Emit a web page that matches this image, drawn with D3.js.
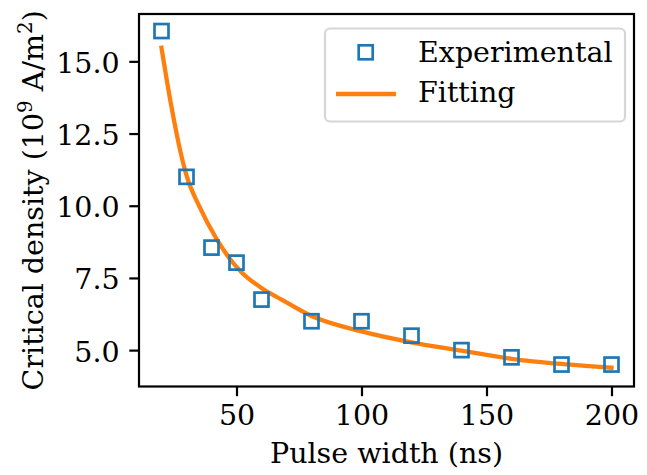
<!DOCTYPE html>
<html>
<head>
<meta charset="utf-8">
<script src="https://cdn.jsdelivr.net/npm/d3@7"></script>
<style>
  body { margin: 0; background: #fff; }
  text { font-family: "DejaVu Serif", serif; fill: #000; }
</style>
</head>
<body>
<div id="chart"></div>
<script>
// ==================== donnees ====================//
const pulseWidth = [20, 30, 40, 50, 60, 80, 100, 120, 140, 160, 180, 200];
const criticalDensity = [16.05, 11.0, 8.55, 8.03, 6.75, 6.0, 6.0, 5.5, 5.0, 4.75, 4.5, 4.5];

const fitX = [20, 24, 27, 30, 35, 42, 47, 52, 60, 68, 80, 100, 120, 140, 160, 180, 200];
const fitY = [15.47, 13.42, 12.1, 11.05, 10.0, 8.85, 8.2, 7.7, 7.15, 6.75, 6.18, 5.65, 5.27, 4.98, 4.7, 4.52, 4.39];

const xTicks = [50, 100, 150, 200];
const yTicks = [5.0, 7.5, 10.0, 12.5, 15.0];

const legendLabels = ["Experimental", "Fitting"];

// ==================== mise en page ====================//
const width = 647;
const height = 475;
const margin = { left: 139, right: 13, top: 14, bottom: 88.5 };
const fontSize = 28.5;
const blue = "#1f77b4";
const orange = "#ff7f0e";

const svg = d3.select("#chart")
    .append("svg")
    .attr("width", width)
    .attr("height", height);

const x = d3.scaleLinear()
    .domain([11, 209])
    .range([margin.left, width - margin.right]);

const y = d3.scaleLinear()
    .domain([3.74, 16.64])
    .range([height - margin.bottom, margin.top]);

// axe x
const xAxis = d3.axisBottom(x)
    .tickValues(xTicks)
    .tickFormat(d3.format("d"))
    .tickSize(9.7)
    .tickPadding(9.7);

const gx = svg.append("g")
    .attr("transform", `translate(0,${height - margin.bottom})`)
    .call(xAxis);

gx.select(".domain").remove();
gx.selectAll(".tick line").attr("stroke", "#000").attr("stroke-width", 2.2);
gx.selectAll(".tick text")
    .attr("font-size", fontSize)
    .attr("font-family", "DejaVu Serif")
    .attr("dy", null)
    .attr("y", 38);

// axe y
const yAxis = d3.axisLeft(y)
    .tickValues(yTicks)
    .tickFormat(d3.format(".1f"))
    .tickSize(9.7)
    .tickPadding(9.7);

const gy = svg.append("g")
    .attr("transform", `translate(${margin.left},0)`)
    .call(yAxis);

gy.select(".domain").remove();
gy.selectAll(".tick line").attr("stroke", "#000").attr("stroke-width", 2.2);
gy.selectAll(".tick text")
    .attr("font-size", fontSize)
    .attr("font-family", "DejaVu Serif")
    .attr("dy", null)
    .attr("y", 11);

// cadre des axes
svg.append("rect")
    .attr("x", margin.left)
    .attr("y", margin.top)
    .attr("width", width - margin.left - margin.right)
    .attr("height", height - margin.top - margin.bottom)
    .attr("fill", "none")
    .attr("stroke", "#000")
    .attr("stroke-width", 2.2);

// courbe de fit
const line = d3.line()
    .x(d => x(d[0]))
    .y(d => y(d[1]))
    .curve(d3.curveMonotoneX);

svg.append("path")
    .datum(fitX.map((v, i) => [v, fitY[i]]))
    .attr("d", line)
    .attr("fill", "none")
    .attr("stroke", orange)
    .attr("stroke-width", 4.3)
    .attr("stroke-linecap", "square");

// points experimentaux (carres vides)
const side = 14;
svg.selectAll("rect.pt")
    .data(pulseWidth.map((v, i) => [v, criticalDensity[i]]))
    .enter()
    .append("rect")
    .attr("class", "pt")
    .attr("x", d => x(d[0]) - side / 2)
    .attr("y", d => y(d[1]) - side / 2)
    .attr("width", side)
    .attr("height", side)
    .attr("fill", "none")
    .attr("stroke", blue)
    .attr("stroke-width", 2.7);

// titres des axes
svg.append("text")
    .attr("x", (margin.left + width - margin.right) / 2)
    .attr("y", 462.5)
    .attr("text-anchor", "middle")
    .attr("font-size", fontSize)
    .text("Pulse width (ns)");

const yLabel = svg.append("text")
    .attr("transform", `translate(43,${(margin.top + height - margin.bottom) / 2}) rotate(-90)`)
    .attr("text-anchor", "middle")
    .attr("font-size", fontSize);

yLabel.append("tspan").text("Critical density (10");
yLabel.append("tspan").attr("font-size", 20).attr("dy", -11).text("9");
yLabel.append("tspan").attr("dy", 11).text(" A/m");
yLabel.append("tspan").attr("font-size", 20).attr("dy", -11).text("2");
yLabel.append("tspan").attr("dy", 11).text(")");

// ==================== legende ====================//
const legend = svg.append("g");

legend.append("rect")
    .attr("x", 325)
    .attr("y", 28.5)
    .attr("width", 300)
    .attr("height", 93)
    .attr("rx", 5)
    .attr("fill", "rgba(255,255,255,0.8)")
    .attr("stroke", "#d6d6d6")
    .attr("stroke-width", 2.2);

legend.append("rect")
    .attr("x", 365.7 - side / 2)
    .attr("y", 52.3 - side / 2)
    .attr("width", side)
    .attr("height", side)
    .attr("fill", "none")
    .attr("stroke", blue)
    .attr("stroke-width", 2.7);

legend.append("line")
    .attr("x1", 336)
    .attr("x2", 396)
    .attr("y1", 94)
    .attr("y2", 94)
    .attr("stroke", orange)
    .attr("stroke-width", 4.3);

legend.selectAll("text.lab")
    .data(legendLabels)
    .enter()
    .append("text")
    .attr("class", "lab")
    .attr("x", 418)
    .attr("y", (d, i) => 62 + i * 40)
    .attr("font-size", fontSize)
    .text(d => d);
</script>
</body>
</html>
